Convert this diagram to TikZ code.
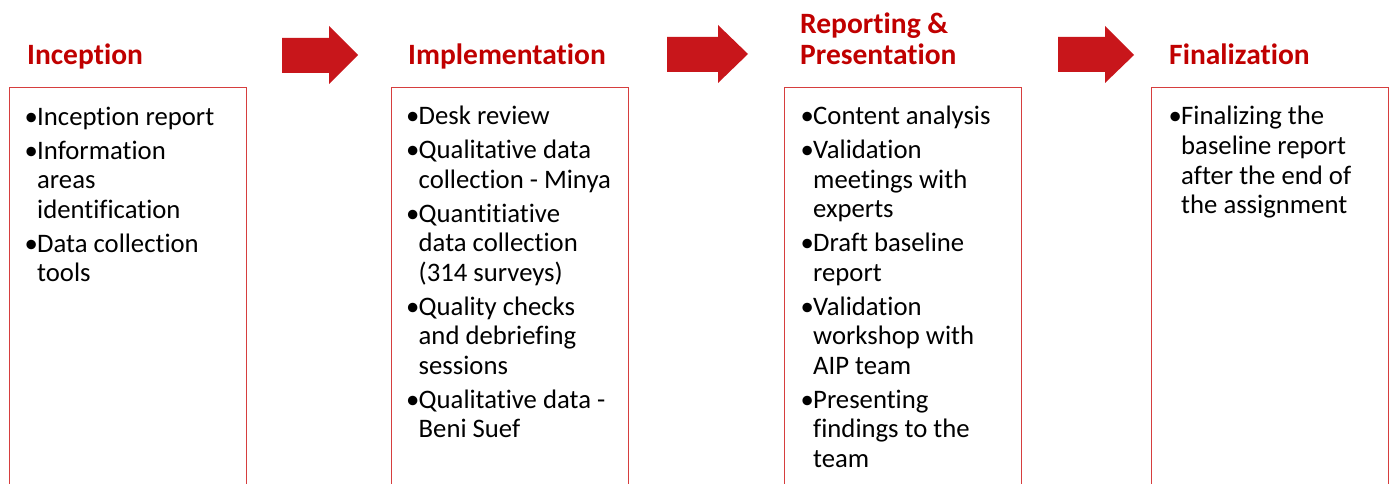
\documentclass[tikz,border=0pt]{standalone}
\usepackage{fontspec}
\setmainfont{Carlito}[Ligatures={NoCommon}]
\definecolor{titlered}{RGB}{192,0,0}
\definecolor{arrowred}{RGB}{200,22,27}
\definecolor{boxred}{RGB}{214,62,62}
% bullet with hanging indent
\newcommand\bl{\makebox[9.5pt][l]{\hspace*{-3pt}•}}
\newcommand\hg{\hspace*{9.5pt}}
% top-aligned column of lines, baseline on its first line
\newenvironment{lines}{\begin{tabular}[t]{@{}l@{}}}{\end{tabular}}
\begin{document}
\begin{tikzpicture}[x=1pt,y=-1pt,
  stagetitle/.style={font=\fontsize{29.5}{31}\selectfont\bfseries, text=titlered,
    inner sep=0pt, anchor=base west},
  stagebox/.style={draw=boxred, line width=1pt, minimum width=237pt,
    minimum height=420pt, anchor=north west, inner sep=0pt},
  itemlist/.style={font=\fontsize{26.7}{29.5}\selectfont, inner sep=0pt,
    anchor=base west},
  flowarrow/.style={fill=arrowred}]
\useasboundingbox (0,0) rectangle (1390,484);

% stage titles
\node[stagetitle] (t1) at (27,64.5) {Inception};
\node[stagetitle] (t2) at (408,64.5) {Implementation};
\node[stagetitle] (t3) at (800,33.5) {\begin{lines}Reporting \&\\Presentation\end{lines}};
\node[stagetitle] (t4) at (1169,64.5) {Finalization};

% arrows between stages
\fill[flowarrow] (282,38) -- (329,38) -- (329,26) -- (358,55) -- (329,84) -- (329,73) -- (282,73) -- cycle;
\fill[flowarrow] (667,37) -- (718,37) -- (718,25) -- (748,54) -- (718,83) -- (718,72) -- (667,72) -- cycle;
\fill[flowarrow] (1058,37) -- (1105,37) -- (1105,26) -- (1134,55) -- (1105,83) -- (1105,72) -- (1058,72) -- cycle;

% stage boxes (run off the bottom edge)
\node[stagebox] (b1) at (8.5,87.5) {};
\node[stagebox] (b2) at (390.5,87.5) {};
\node[stagebox] (b3) at (784,87.5) {};
\node[stagebox] (b4) at (1151,87.5) {};

% activities
\node[itemlist] (l1) at (27.5,125.5) {\begin{lines}
\bl Inception report\\[4.5pt]
\bl Information\\
\hg areas\\
\hg identification\\[4.5pt]
\bl Data collection\\
\hg tools\end{lines}};

\node[itemlist] (l2) at (409,125) {\begin{lines}
\bl Desk review\\[4.5pt]
\bl Qualitative data\\
\hg collection - Minya\\[4.5pt]
\bl Quantitiative\\
\hg data collection\\
\hg (314 surveys)\\[4.5pt]
\bl Quality checks\\
\hg and debriefing\\
\hg sessions\\[4.5pt]
\bl Qualitative data -\\
\hg Beni Suef\end{lines}};

\node[itemlist] (l3) at (803.5,125) {\begin{lines}
\bl Content analysis\\[4.5pt]
\bl Validation\\
\hg meetings with\\
\hg experts\\[4.5pt]
\bl Draft baseline\\
\hg report\\[4.5pt]
\bl Validation\\
\hg workshop with\\
\hg AIP team\\[4.5pt]
\bl Presenting\\
\hg findings to the\\
\hg team\end{lines}};

\node[itemlist] (l4) at (1171.5,125) {\begin{lines}
\bl Finalizing the\\
\hg baseline report\\
\hg after the end of\\
\hg the assignment\end{lines}};
\end{tikzpicture}
\end{document}
